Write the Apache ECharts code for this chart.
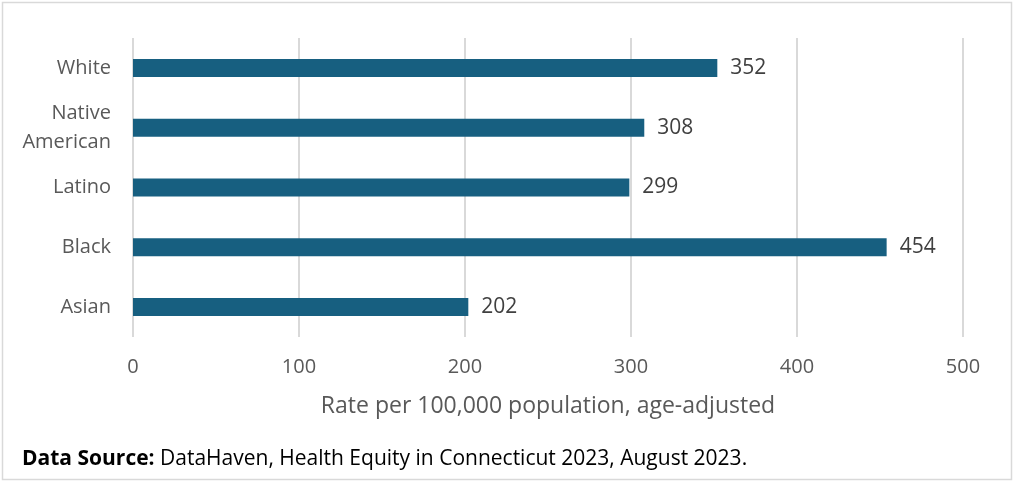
<!DOCTYPE html>
<html>
<head>
<meta charset="utf-8">
<script src="https://cdn.jsdelivr.net/npm/echarts@6/dist/echarts.min.js"></script>
<style>
  html, body { margin: 0; padding: 0; background: #fff; }
  #chart { width: 1014px; height: 482px; }
</style>
</head>
<body>
<div id="chart"></div>
<script>
// bottom to top, like the picture
const categories = ['Asian', 'Black', 'Latino', 'Native\nAmerican', 'White']
const rates = [202, 454, 299, 308, 352]
const xTicks = [0, 100, 200, 300, 400, 500]

const font = '"Open Sans", "Noto Sans", sans-serif'
const grey = '#595959'

let chart = echarts.init(document.getElementById('chart'))
chart.setOption({
  animation: false,
  backgroundColor: '#fff',
  textStyle: { fontFamily: font },
  grid: { left: 133, right: 51, top: 38, bottom: 145, containLabel: false },
  xAxis: {
    type: 'value',
    min: xTicks[0],
    max: xTicks[xTicks.length - 1],
    interval: 100,
    name: 'Rate per 100,000 population, age-adjusted',
    nameLocation: 'middle',
    nameGap: 58,
    nameTextStyle: { fontSize: 23, color: grey, fontFamily: font },
    axisLine: { show: false },
    axisTick: { show: false },
    axisLabel: { fontSize: 20, color: grey, margin: 20, fontFamily: font },
    splitLine: { lineStyle: { color: '#d9d9d9', width: 2 } }
  },
  yAxis: {
    type: 'category',
    data: categories,
    axisLine: { show: false },
    axisTick: { show: false },
    axisLabel: { fontSize: 20, color: grey, margin: 22, lineHeight: 29, fontFamily: font, align: 'right' },
    splitLine: { show: false }
  },
  series: [{
    type: 'bar',
    data: rates,
    barWidth: 18,
    itemStyle: { color: '#175f80' },
    label: {
      show: true,
      position: 'right',
      distance: 13,
      fontSize: 21,
      color: '#404040',
      fontFamily: font
    }
  }],
  graphic: [
    {
      type: 'rect',
      shape: { x: 2.5, y: 2.5, width: 1009, height: 477 },
      style: { fill: 'none', stroke: '#d9d9d9', lineWidth: 1.5 },
      silent: true
    },
    {
      type: 'text',
      left: 22,
      top: 449,
      style: {
        text: '{b|Data Source:} DataHaven, Health Equity in Connecticut 2023, August 2023.',
        fontFamily: font,
        fontSize: 21,
        fill: '#000',
        rich: {
          b: { fontWeight: 'bold', fontSize: 21, fontFamily: font, fill: '#000' }
        }
      }
    }
  ]
})
window.addEventListener('resize', () => {
  chart.resize()
})
</script>
</body>
</html>
